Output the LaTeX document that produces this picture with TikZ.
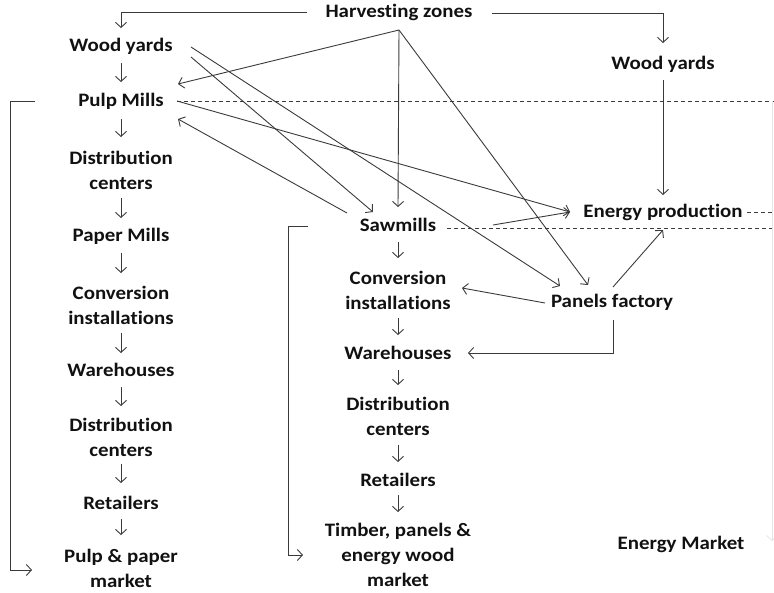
\documentclass[tikz,border=0pt]{standalone}
\usepackage{fontspec}
\setmainfont{Carlito}[FakeStretch=1.1,Ligatures={NoCommon}]
\usetikzlibrary{arrows.meta,calc}
\definecolor{linec}{HTML}{3A3A3A}
\definecolor{txtc}{HTML}{111111}
\tikzset{
  lbl/.style={font=\bfseries\fontsize{19}{25}\selectfont, align=center, inner sep=2pt, text=txtc},
  arr/.style={draw=linec, line width=0.9pt, -{Straight Barb[length=5pt,width=11pt]}},
  plain/.style={draw=linec, line width=0.9pt},
  dash line/.style={draw=linec, line width=0.8pt, dash pattern=on 4pt off 3pt},
  faint/.style={draw=gray!20, line width=0.8pt, -{Straight Barb[length=5pt,width=11pt]}}
}
\begin{document}
\begin{tikzpicture}[x=1pt,y=-1pt]
\useasboundingbox (0,0) rectangle (774,592);
% nodes
\node[lbl] (hz) at (399,12) {Harvesting zones};
\node[lbl] (wyL) at (121,46) {Wood yards};
\node[lbl] (pm) at (121,101) {Pulp Mills};
\node[lbl] (dc1) at (121,170) {Distribution\\centers};
\node[lbl] (paper) at (121,236) {Paper Mills};
\node[lbl] (conv1) at (121,305) {Conversion\\installations};
\node[lbl] (wh1) at (121,370) {Warehouses};
\node[lbl] (dc2) at (121,437) {Distribution\\centers};
\node[lbl] (ret1) at (121,503) {Retailers};
\node[lbl] (ppm) at (121,568) {Pulp \& paper\\market};
\node[lbl] (saw) at (398,225) {Sawmills};
\node[lbl] (conv2) at (398,290) {Conversion\\installations};
\node[lbl] (wh2) at (398,353) {Warehouses};
\node[lbl] (dc3) at (398,416) {Distribution\\centers};
\node[lbl] (ret2) at (398,480) {Retailers};
\node[lbl] (tim) at (398,555) {Timber, panels \&\\energy wood\\market};
\node[lbl] (wyR) at (663,64) {Wood yards};
\node[lbl] (ep) at (663,212) {Energy production};
\node[lbl] (pf) at (612,302) {Panels factory};
\node[lbl] (em) at (681,544) {Energy Market};
% free ends at the right edge
\coordinate (edgeA) at (774,101);
\coordinate (edgeB) at (774,228);
\coordinate (edgeC) at (774,212);
\coordinate (edgeTop) at (772,101);
\coordinate (edgeBot) at (772,541);
\coordinate (apex) at ($(hz)+(0,18)$);
% harvesting zones to wood yards
\draw[arr] ($(hz)+(-92,0)$) -| ($(wyL)+(0,-18)$);
\draw[arr] ($(hz)+(93,1)$) -| ($(wyR)+(0,-21)$);
% left column
\draw[arr] ($(wyL)+(0,17)$) -- ($(pm)+(0,-19)$);
\draw[arr] ($(pm)+(0,18)$) -- ($(dc1)+(0,-33)$);
\draw[arr] ($(dc1)+(0,28)$) -- ($(paper)+(0,-18)$);
\draw[arr] ($(paper)+(0,17)$) -- ($(conv1)+(0,-32)$);
\draw[arr] ($(conv1)+(0,28)$) -- ($(wh1)+(0,-17)$);
\draw[arr] ($(wh1)+(0,17)$) -- ($(dc2)+(0,-31)$);
\draw[arr] ($(dc2)+(0,27)$) -- ($(ret1)+(0,-20)$);
\draw[arr] ($(ret1)+(0,16)$) -- ($(ppm)+(0,-33)$);
% middle column
\draw[arr] ($(saw)+(0,17)$) -- ($(conv2)+(0,-32)$);
\draw[arr] ($(conv2)+(0,28)$) -- ($(wh2)+(0,-18)$);
\draw[arr] ($(wh2)+(0,17)$) -- ($(dc3)+(0,-31)$);
\draw[arr] ($(dc3)+(0,29)$) -- ($(ret2)+(0,-18)$);
\draw[arr] ($(ret2)+(0,15)$) -- ($(tim)+(0,-43)$);
% from harvesting zones apex
\draw[arr] (apex) -- ($(pm)+(57,-17)$);
\draw[arr] (apex) -- ($(saw)+(0,-18)$);
\draw[arr] (apex) -- ($(pf)+(-24,-17)$);
% from wood yards (left)
\draw[arr] ($(wyL)+(70,1)$) -- ($(pf)+(-52,-16)$);
\draw[arr] ($(wyL)+(70,11)$) -- ($(saw)+(-25,-13)$);
% to energy production
\draw[arr] ($(pm)+(56,0)$) -- ($(ep)+(-93,0)$);
\draw[arr] ($(saw)+(95,0)$) -- ($(ep)+(-93,0)$);
\draw[arr] ($(pf)+(1,-15)$) -- ($(ep)+(0,18)$);
\draw[arr] ($(wyR)+(0,16)$) -- ($(ep)+(0,-17)$);
% sawmills back to pulp mills
\draw[arr] ($(saw)+(-51,-12)$) -- ($(pm)+(57,18)$);
% panels factory outputs
\draw[arr] ($(pf)+(-67,1)$) -- ($(conv2)+(64,-2)$);
\draw[arr] ($(pf)+(1,18)$) |- ($(wh2)+(70,0)$);
% dashed lines
\draw[dash line] ($(pm)+(56,0)$) -- (edgeA);
\draw[dash line] ($(saw)+(49,3)$) -- (edgeB);
\draw[dash line] ($(ep)+(84,0)$) -- (edgeC);
\draw[faint] (edgeTop) -- (edgeBot);
% brackets to markets
\draw[arr] ($(pm)+(-86,0)$) -- ++(-25,0) |- ($(ppm)+(-89,2)$);
\draw[arr] ($(saw)+(-90,1)$) -- ++(-20,0) |- ($(tim)+(-95,0)$);
\end{tikzpicture}
\end{document}
